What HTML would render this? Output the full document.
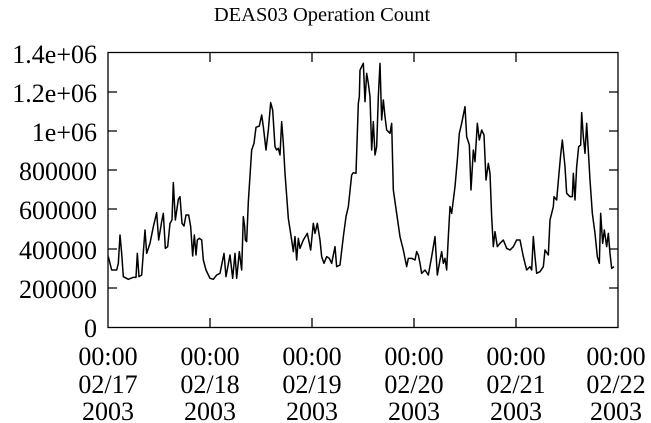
<!DOCTYPE html>
<html><head><meta charset="utf-8"><style>
html,body{margin:0;padding:0;background:#fff;}
svg{display:block;}
text{font-family:"Liberation Serif",serif;fill:#000;}
</style></head><body>
<svg width="651" height="423" viewBox="0 0 651 423">
<text x="322" y="21" font-size="20.5" text-anchor="middle">DEAS03 Operation Count</text>
<g font-size="26" text-anchor="end">
<text x="97" y="337">0</text>
<text x="97" y="298">200000</text>
<text x="97" y="259">400000</text>
<text x="97" y="219">600000</text>
<text x="97" y="180">800000</text>
<text x="97" y="141">1e+06</text>
<text x="97" y="102">1.2e+06</text>
<text x="97" y="63">1.4e+06</text>
</g>
<g font-size="26" text-anchor="middle">
<text x="108" y="365">00:00</text><text x="108" y="393">02/17</text><text x="108" y="420">2003</text>
<text x="210" y="365">00:00</text><text x="210" y="393">02/18</text><text x="210" y="420">2003</text>
<text x="312" y="365">00:00</text><text x="312" y="393">02/19</text><text x="312" y="420">2003</text>
<text x="414" y="365">00:00</text><text x="414" y="393">02/20</text><text x="414" y="420">2003</text>
<text x="516" y="365">00:00</text><text x="516" y="393">02/21</text><text x="516" y="420">2003</text>
<text x="616" y="365">00:00</text><text x="616" y="393">02/22</text><text x="616" y="420">2003</text>
</g>
<g stroke="#000" stroke-width="1.3" fill="none">
<rect x="108" y="52.5" width="510" height="275"/>
<path d="M108 288h9M108 249h9M108 209h9M108 170h9M108 131h9M108 92h9M618 288h-9M618 249h-9M618 209h-9M618 170h-9M618 131h-9M618 92h-9M210 327v-9M312 327v-9M414 327v-9M516 327v-9M210 53v9M312 53v9M414 53v9M516 53v9"/>
</g>
<g transform="translate(100,40) scale(0.33333)">
<polyline fill="none" stroke="#000" stroke-width="4.5" stroke-linejoin="round" points="25,650 35,690 50,690 55,670 60,585 65,640 70,710 85,718 100,712 108,712 112,640 117,710 125,705 135,570 140,640 150,610 160,560 170,518 176,600 185,545 190,520 196,625 203,620 210,550 216,540 220,428 226,540 235,478 240,470 246,550 252,558 258,525 266,525 272,560 278,648 283,585 288,645 292,600 298,595 305,600 310,660 318,690 330,715 340,718 350,705 360,700 372,640 378,710 390,645 398,715 405,640 410,715 418,635 425,690 430,530 434,560 436,600 440,605 445,485 455,330 462,310 468,262 478,258 485,225 490,260 498,330 505,270 512,188 518,210 525,320 530,330 535,325 540,345 545,245 550,310 555,400 565,535 575,600 580,635 585,590 590,660 595,595 600,625 610,600 622,580 632,630 640,550 645,580 652,550 660,600 665,650 672,670 680,650 688,655 695,670 705,620 710,680 720,675 730,590 738,530 745,500 755,405 760,398 768,400 775,190 778,170 780,90"/>
</g>
<g transform="translate(360,40) scale(0.33333)">
<polyline fill="none" stroke="#000" stroke-width="4.5" stroke-linejoin="round" points="0,90 5,80 10,70 15,185 20,100 25,130 30,170 35,330 40,245 45,345 50,320 55,170 60,70 65,240 70,180 75,230 80,270 90,280 95,250 100,450 110,520 120,590 130,630 140,680 145,655 155,655 165,660 170,635 175,645 180,670 185,700 195,690 205,705 215,650 225,590 232,705 240,660 245,635 250,670 255,655 260,690 265,590 270,500 275,520 285,440 292,360 298,280 305,250 315,200 320,290 328,315 333,450 340,330 345,365 352,250 358,300 365,270 372,285 378,420 385,370 390,400 395,530 400,620 405,575 412,620 420,610 430,600 440,625 450,630 460,620 470,600 480,600 490,650 500,690 510,680 515,690 520,590 525,650 530,700 540,695 550,680 555,630 565,645 570,540 580,500 582,470 590,480 597,400 602,345 607,300 615,380 620,460 630,470 637,470 640,400 645,480 650,380 656,320 662,315 665,218 670,290 675,340 680,250 686,350 690,420 697,520 705,580 712,650 718,670 722,520 728,610 733,570 740,620 745,580 750,640 755,685 762,680"/>
</g>
</svg>
</body></html>
